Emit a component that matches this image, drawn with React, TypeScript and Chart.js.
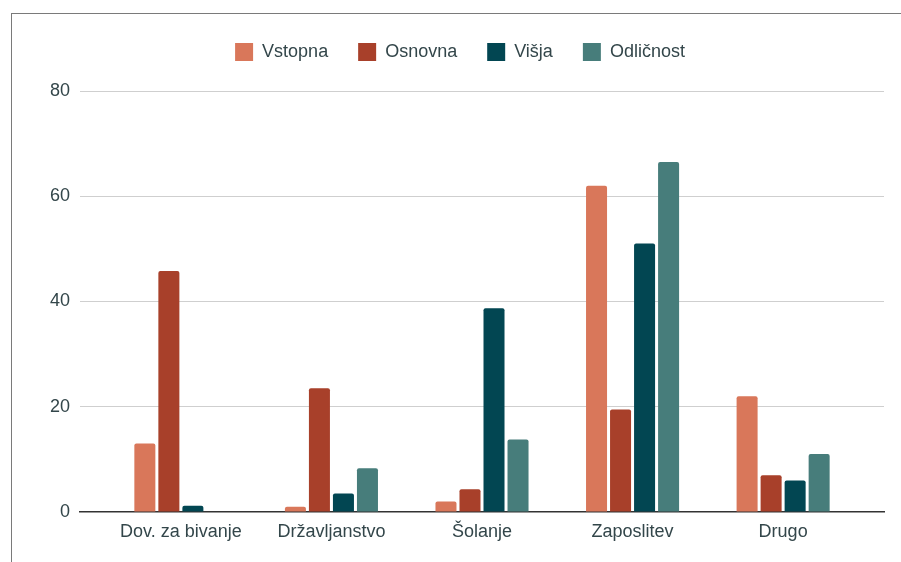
import React, { useEffect, useRef } from "react";
import { Chart, registerables } from "chart.js";

Chart.register(...registerables);

const CATEGORIES = ["Dov. za bivanje", "Državljanstvo", "Šolanje", "Zaposlitev", "Drugo"];
const SERIES_NAMES = ["Vstopna", "Osnovna", "Višja", "Odličnost"];
const VSTOPNA = [13, 1, 2, 62, 22];
const OSNOVNA = [45.8, 23.5, 4.3, 19.5, 7];
const VISJA = [1.2, 3.5, 38.7, 51, 6];
const ODLICNOST = [0, 8.3, 13.8, 66.5, 11];
const COLORS = ["#d9775a", "#a8402a", "#024652", "#477d7b"];
const Y_TICKS = [0, 20, 40, 60, 80];

const TEXT = "#33464a";
const FONT = "'Liberation Sans', Arial, sans-serif";

export default function App() {
  const ref = useRef<HTMLCanvasElement | null>(null);

  useEffect(() => {
    if (!ref.current) return;
    const series = [VSTOPNA, OSNOVNA, VISJA, ODLICNOST];
    const legendFix = {
      id: "legendFix",
      afterInit(chart: any) {
        const lg = chart.legend;
        if (lg) {
          const orig = lg.fit;
          lg.fit = function () {
            orig.call(this);
            this.height = 79;
          };
        }
      },
      afterLayout(chart: any) {
        const lg = chart.legend;
        if (lg) {
          lg.left += 18;
          lg.right += 18;
          lg.top += 1;
          lg.bottom += 1;
        }
      },
    };
    const chart = new Chart(ref.current, {
      type: "bar",
      data: {
        datasets: series.map((vals, i) => ({
          label: SERIES_NAMES[i],
          data: vals.map((v, j) => ({ x: j, y: v })),
          backgroundColor: COLORS[i],
          borderWidth: 0,
          borderRadius: 2,
          borderSkipped: "start",
          categoryPercentage: 0.638,
          barPercentage: 0.875,
        })),
      },
      options: {
        responsive: false,
        animation: false,
        layout: { padding: { top: 12, right: 17, left: 0, bottom: 0 } },
        plugins: {
          tooltip: { enabled: false },
          legend: {
            position: "top",
            labels: {
              boxWidth: 18,
              boxHeight: 18,
              padding: 30,
              color: TEXT,
              font: { family: FONT, size: 18 },
            },
          },
        },
        scales: {
          x: {
            type: "linear",
            offset: false,
            min: -0.67,
            max: 4.67,
            grid: { display: false, drawTicks: false, offset: false },
            border: { display: true, color: "#333", width: 1.5 },
            afterBuildTicks: (scale: any) => {
              scale.ticks = CATEGORIES.map((_, i) => ({ value: i }));
            },
            afterFit: (scale: any) => {
              scale.height = 50;
            },
            ticks: {
              padding: 9,
              color: TEXT,
              font: { family: FONT, size: 18 },
              callback: (v: any) => CATEGORIES[v as number] ?? "",
              autoSkip: false,
              maxRotation: 0,
            },
          },
          y: {
            min: 0,
            max: 80,
            afterBuildTicks: (scale: any) => {
              scale.ticks = Y_TICKS.map((v) => ({ value: v }));
            },
            afterFit: (scale: any) => {
              scale.width = 80;
            },
            grid: {
              drawTicks: false,
              color: (ctx: any) => (ctx.tick && ctx.tick.value === 0 ? "rgba(0,0,0,0)" : "#cfcfcf"),
              lineWidth: 1,
            },
            border: { display: false },
            ticks: {
              padding: 10,
              color: TEXT,
              font: { family: FONT, size: 18 },
            },
          },
        },
      },
      plugins: [legendFix],
    });
    return () => chart.destroy();
  }, []);

  return (
    <div style={{ position: "absolute", left: 0, top: 0, width: 901, height: 562, background: "#fff", overflow: "hidden" }}>
      <div
        style={{
          position: "absolute",
          left: 11,
          top: 13,
          right: -5,
          bottom: -5,
          borderLeft: "1px solid #7a7a7a",
          borderTop: "1px solid #7a7a7a",
        }}
      />
      <canvas ref={ref} width={901} height={562} style={{ position: "absolute", left: 0, top: 0 }} />
    </div>
  );
}
